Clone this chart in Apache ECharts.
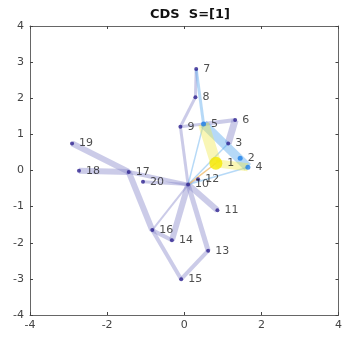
<!DOCTYPE html>
<html>
<head>
<meta charset="utf-8">
<script src="https://cdn.jsdelivr.net/npm/echarts@6/dist/echarts.min.js"></script>
<style>
  html, body { margin: 0; padding: 0; background: #fff; }
  #chart { width: 345px; height: 343px; }
</style>
</head>
<body>
<div id="chart"></div>
<script>
// node ids and positions
const nodeNames = ["1","2","3","4","5","6","7","8","9","10","11","12","13","14","15","16","17","18","19","20"];
const nodeX = [0.82, 1.45, 1.14, 1.65, 0.50, 1.32, 0.31, 0.29, -0.10, 0.10, 0.86, 0.36, 0.62, -0.32, -0.08, -0.83, -1.44, -2.73, -2.91, -1.07];
const nodeY = [0.20, 0.34, 0.75, 0.09, 1.29, 1.40, 2.81, 2.03, 1.21, -0.39, -1.10, -0.24, -2.22, -1.93, -3.01, -1.65, -0.04, -0.01, 0.75, -0.31];
// node groups: 0 = source, 1 = near, 2 = other
const nodeGroup = [0, 1, 2, 1, 1, 2, 2, 2, 2, 2, 2, 2, 2, 2, 2, 2, 2, 2, 2, 2];

// edges: [from, to, weight, kind]  kind 0 lavender, 1 blue, 2 yellow, 3 orange
const edges = [
  [17, 19, 6, 0], [17, 18, 6, 0], [17, 10, 4, 0], [20, 10, 3, 0],
  [17, 16, 6, 0], [16, 15, 4, 0], [15, 13, 4, 0], [13, 10, 5, 0],
  [14, 10, 6, 0], [16, 14, 4, 0], [16, 10, 2, 0], [11, 10, 6, 0],
  [12, 10, 1.5, 0], [9, 10, 3, 0], [8, 9, 3, 0], [7, 8, 3, 0],
  [9, 5, 3, 0], [5, 6, 4, 0], [6, 3, 7, 0],
  [7, 5, 3, 1], [5, 4, 9, 1], [3, 10, 1.5, 1], [4, 10, 1.5, 1], [5, 10, 1.5, 1],
  [5, 1, 11, 2], [1, 4, 8, 2], [1, 10, 1.5, 3]
];

const edgeColors = ["rgba(140,140,205,0.45)", "rgba(80,165,235,0.42)", "rgba(240,232,70,0.4)", "rgba(240,180,90,0.7)"];
const nodeColors = ["#f5e900", "#1e7fe8", "#2c1f8e"];
const nodeSizes = [13, 5, 4];

const chart = echarts.init(document.getElementById("chart"));

const edgeData = edges.map(e => ({
  coords: [[nodeX[e[0] - 1], nodeY[e[0] - 1]], [nodeX[e[1] - 1], nodeY[e[1] - 1]]],
  lineStyle: { width: e[2], color: edgeColors[e[3]], opacity: 1 }
}));

const nodeData = nodeNames.map((n, i) => ({
  name: n,
  value: [nodeX[i], nodeY[i]],
  symbolSize: nodeSizes[nodeGroup[i]],
  itemStyle: { color: nodeColors[nodeGroup[i]] }
}));

const axisLine = { show: true, onZero: false, lineStyle: { color: "#666", width: 1 } };
const tick = { inside: true, length: 3, lineStyle: { color: "#444" } };

chart.setOption({
  animation: false,
  title: {
    text: "CDS  S=[1]",
    left: 185,
    textAlign: "center",
    top: 3,
    textStyle: { fontFamily: "DejaVu Sans", fontSize: 13, fontWeight: "bold", color: "#111" }
  },
  grid: { left: 30, right: 5, top: 26, bottom: 28 },
  xAxis: [
    {
      type: "value", min: -4, max: 4, interval: 2,
      axisLine: axisLine, axisTick: tick,
      axisLabel: { color: "#444", fontFamily: "DejaVu Sans", fontSize: 11, margin: 5 },
      splitLine: { show: false }
    },
    {
      type: "value", min: -4, max: 4, interval: 2, position: "top",
      axisLine: axisLine, axisTick: tick,
      axisLabel: { show: false },
      splitLine: { show: false }
    }
  ],
  yAxis: [
    {
      type: "value", min: -4, max: 4, interval: 1,
      axisLine: axisLine, axisTick: tick,
      axisLabel: { color: "#444", fontFamily: "DejaVu Sans", fontSize: 11, margin: 6 },
      splitLine: { show: false }
    },
    {
      type: "value", min: -4, max: 4, interval: 1, position: "right",
      axisLine: axisLine, axisTick: tick,
      axisLabel: { show: false },
      splitLine: { show: false }
    }
  ],
  series: [
    {
      type: "lines",
      coordinateSystem: "cartesian2d",
      xAxisIndex: 0,
      yAxisIndex: 0,
      data: edgeData,
      silent: true,
      z: 2
    },
    {
      type: "scatter",
      xAxisIndex: 0,
      yAxisIndex: 0,
      data: nodeData,
      symbol: "circle",
      label: {
        show: true,
        position: "right",
        distance: 5,
        color: "#222",
        fontFamily: "DejaVu Sans",
        fontSize: 11,
        formatter: "{b}"
      },
      emphasis: { disabled: true },
      z: 3
    }
  ]
});
</script>
</body>
</html>
